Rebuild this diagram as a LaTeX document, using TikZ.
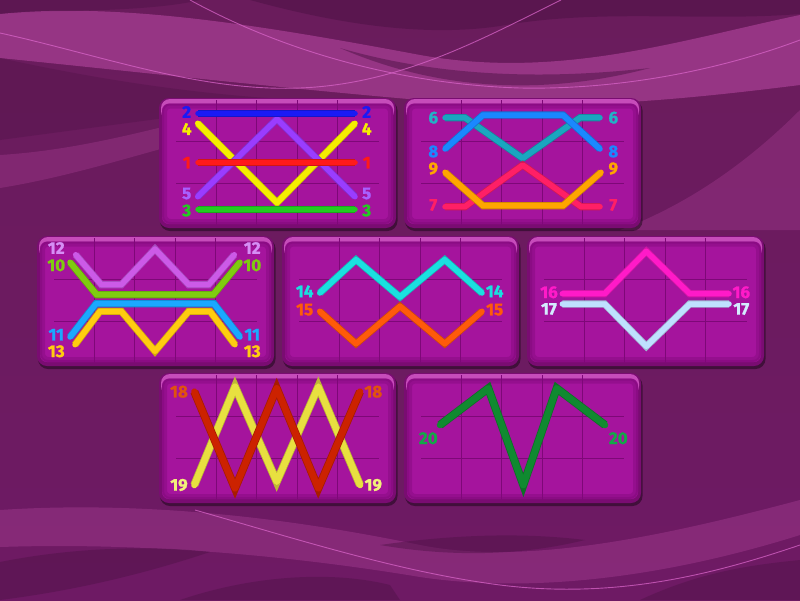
\documentclass[tikz,border=0pt]{standalone}
\usepackage{fontspec}
\newfontfamily\labfont{Fira Sans}[BoldFeatures={FakeBold=1.3}]
\definecolor{bgA}{HTML}{6A1C5C}
\definecolor{bgM}{HTML}{84247A}
\definecolor{bgB}{HTML}{6E1A64}
\definecolor{lightband}{HTML}{B4469F}
\definecolor{darkband}{HTML}{4E1246}
\definecolor{thincurve}{HTML}{D864C8}
\definecolor{panedge}{HTML}{7A0C72}
\definecolor{pantop}{HTML}{C64CBA}
\definecolor{panface}{HTML}{A5149D}
\definecolor{panvig}{HTML}{820A7C}
\definecolor{gridc}{HTML}{7E0878}
\definecolor{c1}{HTML}{FF1A1A}
\definecolor{c2}{HTML}{1A1AF5}
\definecolor{c3}{HTML}{22CC22}
\definecolor{c4}{HTML}{F5EE00}
\definecolor{c5}{HTML}{9A3CFF}
\definecolor{c6}{HTML}{1AA6C0}
\definecolor{c7}{HTML}{FF1F66}
\definecolor{c8}{HTML}{1A88FF}
\definecolor{c9}{HTML}{FFA500}
\definecolor{c10}{HTML}{7FCC10}
\definecolor{c11}{HTML}{1AA8FF}
\definecolor{c12}{HTML}{CC5AE8}
\definecolor{c13}{HTML}{FFCC10}
\definecolor{c14}{HTML}{1AE0E0}
\definecolor{c15}{HTML}{FF5A0A}
\definecolor{c16}{HTML}{FF1AC8}
\definecolor{c17}{HTML}{BFE0FF}
\definecolor{c18}{HTML}{CC2200}
\definecolor{c19}{HTML}{E8E040}
\definecolor{c20}{HTML}{108A30}
\definecolor{t5}{HTML}{A860FF}
\definecolor{t6}{HTML}{22B2C6}
\definecolor{t12}{HTML}{D68EF5}
\definecolor{t17}{HTML}{D4ECFF}
\definecolor{t18}{HTML}{E0520F}
\definecolor{t19}{HTML}{F2F07A}
\definecolor{t20}{HTML}{12A848}
\tikzset{
  pl/.style={draw=#1, line width=5.5pt, line cap=round, line join=round,
    preaction={draw=black, opacity=.35, transform canvas={xshift=0.8pt,yshift=-1.6pt}},
    preaction={draw=#1!82!black, line width=\pgflinewidth+0.8pt}},
  lab/.style={font=\labfont\bfseries\fontsize{17}{17}\selectfont, inner sep=0pt},
  thin/.style={draw=thincurve, line width=0.9pt, opacity=.75},
}
\newcommand\plab[5]{\node[lab,text=#4] (#1) at (#2,#3) {#5};}
\newcommand\panel[2]{%
  \begin{scope}[shift={(#1,#2)}]
    \fill[black,opacity=.4,rounded corners=10pt] (1,2.5) rectangle (238.5,133);
    \fill[panedge,rounded corners=10pt] (0,0) rectangle (237,130);
    \fill[pantop,rounded corners=9pt] (2,1) rectangle (235,22);
    \fill[panface,rounded corners=7pt] (3,5.5) rectangle (234,126);
    \draw[panvig,line width=5pt,opacity=.45,rounded corners=6pt] (5.5,8) rectangle (231.5,123.5);
    \draw[panvig,line width=2pt,opacity=.5,rounded corners=7pt] (4,6.5) rectangle (233,125);
    \draw[gridc,line width=.8pt] (57,2) -- (57,127) (97.5,2) -- (97.5,127)
      (138,2) -- (138,127) (178.5,2) -- (178.5,127)
      (17,43) -- (220,43) (17,85) -- (220,85);
  \end{scope}}
\begin{document}
\begin{tikzpicture}[x=1pt,y=-1pt]
\useasboundingbox (0,0) rectangle (800,600);
% background
\shade[top color=bgA, middle color=bgM, bottom color=bgB] (0,0) rectangle (800,600);
\begin{scope}
\clip (0,0) rectangle (800,600);
\fill[darkband,opacity=.45] (0,0) -- (200,0) .. controls (150,12) and (60,10) .. (0,14) -- cycle;
\fill[lightband,opacity=.6] (0,14) .. controls (120,2) and (260,25) .. (420,55) .. controls (560,80) and (680,40) .. (800,15) -- (800,85) .. controls (680,100) and (560,112) .. (420,100) .. controls (280,88) and (120,70) .. (0,58) -- cycle;
\fill[darkband,opacity=.55] (250,0) -- (800,0) -- (800,14) .. controls (700,22) and (600,8) .. (500,26) .. controls (420,38) and (330,22) .. (250,0) -- cycle;
\fill[darkband,opacity=.5] (340,48) .. controls (450,80) and (560,78) .. (650,68) .. controls (560,92) and (450,96) .. (340,48) -- cycle;
\fill[darkband,opacity=.35] (0,58) .. controls (100,80) and (200,95) .. (300,100) -- (0,140) -- cycle;
\fill[lightband,opacity=.3] (0,155) .. controls (80,150) and (150,130) .. (250,105) -- (250,125) .. controls (150,150) and (80,175) .. (0,188) -- cycle;
\fill[lightband,opacity=.3] (800,110) .. controls (760,150) and (700,200) .. (620,230) -- (800,230) -- cycle;
% bottom
\fill[lightband,opacity=.35] (0,510) .. controls (150,500) and (300,520) .. (420,545) .. controls (520,565) and (650,540) .. (800,500) -- (800,535) .. controls (650,582) and (520,592) .. (420,577) .. controls (300,557) and (150,542) .. (0,547) -- cycle;
\fill[darkband,opacity=.45] (0,562) .. controls (80,546) and (160,546) .. (210,552) .. controls (150,572) and (80,590) .. (0,600) -- cycle;
\fill[darkband,opacity=.45] (180,600) .. controls (250,576) and (330,570) .. (390,585) -- (400,600) -- cycle;
\fill[darkband,opacity=.45] (380,545) .. controls (450,535) and (520,532) .. (585,540) .. controls (520,556) and (450,557) .. (380,545) -- cycle;
\fill[darkband,opacity=.45] (640,600) .. controls (700,572) and (750,565) .. (800,560) -- (800,600) -- cycle;
% thin curves
\draw[thin] (190,0) .. controls (300,60) and (420,85) .. (520,88) .. controls (620,90) and (720,70) .. (800,40);
\draw[thin] (0,33) .. controls (100,55) and (200,92) .. (300,88) .. controls (400,84) and (480,40) .. (561,0);
\draw[thin] (195,510) .. controls (300,540) and (400,572) .. (500,585) .. controls (620,600) and (720,572) .. (800,545);
\end{scope}
% panels
\panel{159}{98}
\panel{404}{98}
\panel{37}{236}
\panel{282}{236}
\panel{527}{236}
\panel{159}{373}
\panel{404}{373}
% panel 1
\draw[pl=c4] (197.7,123.3) -- (277,202.7) -- (355,123.3);
\draw[pl=c5] (197.7,196.7) -- (277,119) -- (355,196.7);
\draw[pl=c1] (198,162.7) -- (355,162.7);
\draw[pl=c2] (198,113.3) -- (355,113.3);
\draw[pl=c3] (198,209.3) -- (355,209.3);
\plab{a2}{186.7}{112}{c2}{2}\plab{b2}{366.7}{112}{c2}{2}
\plab{a4}{186.7}{129}{c4}{4}\plab{b4}{366.7}{129}{c4}{4}
\plab{a1}{186.7}{162.7}{c1}{1}\plab{b1}{366.7}{162.7}{c1}{1}
\plab{a5}{186.7}{193.5}{t5}{5}\plab{b5}{366.7}{193.5}{t5}{5}
\plab{a3}{186.7}{210.5}{c3}{3}\plab{b3}{366.7}{210.5}{c3}{3}
% panel 2
\draw[pl=c6] (445,117.7) -- (465,117.7) -- (522.7,158.3) -- (580,117.7) -- (600,117.7);
\draw[pl=c8] (445,149) -- (483,115) -- (563,115) -- (600,149);
\draw[pl=c7] (445,206.7) -- (465,206.7) -- (522.7,165) -- (581,206.7) -- (600,206.7);
\draw[pl=c9] (445,172.3) -- (483,205.7) -- (563,205.7) -- (601,172.3);
\plab{a6}{433.3}{117.7}{t6}{6}\plab{b6}{613.3}{117.7}{t6}{6}
\plab{a8}{433.3}{151.5}{c8}{8}\plab{b8}{613.3}{151.5}{c8}{8}
\plab{a9}{433.3}{168.5}{c9}{9}\plab{b9}{613.3}{168.5}{c9}{9}
\plab{a7}{433.3}{205}{c7}{7}\plab{b7}{613.3}{205}{c7}{7}
% panel 3
\draw[pl=c12] (75.7,254.7) -- (101.3,284.7) -- (121.3,284.7) -- (155,249) -- (188.7,284.7) -- (208.7,284.7) -- (234.3,254.7);
\draw[pl=c10] (70,262.3) -- (96.7,294.7) -- (213.3,294.7) -- (240,262.3);
\draw[pl=c11] (70,337) -- (96,303.7) -- (214,303.7) -- (240,337);
\draw[pl=c13] (75,344.7) -- (100,311.3) -- (121.3,311.3) -- (155,351.3) -- (188.7,311.3) -- (210,311.3) -- (235,344.7);
\plab{a12}{56.3}{248}{t12}{12}\plab{b12}{252.3}{248}{t12}{12}
\plab{a10}{56.3}{265.3}{c10}{10}\plab{b10}{252.3}{265.3}{c10}{10}
\plab{a11}{56.3}{334.7}{c11}{11}\plab{b11}{252.3}{334.7}{c11}{11}
\plab{a13}{56.3}{351.3}{c13}{13}\plab{b13}{252.3}{351.3}{c13}{13}
% panel 4
\draw[pl=c14] (319.7,293) -- (356,259.7) -- (400,297) -- (444.7,259.7) -- (482,293);
\draw[pl=c15] (319.7,311.3) -- (356,343.7) -- (400,306.3) -- (444.7,343.7) -- (482,311.3);
\plab{a14}{304.7}{291.3}{c14}{14}\plab{b14}{494.7}{291.3}{c14}{14}
\plab{a15}{304.7}{309.7}{c15}{15}\plab{b15}{494.7}{309.7}{c15}{15}
% panel 5
\draw[pl=c16] (562.3,293.7) -- (604.7,293.7) -- (646.3,251.3) -- (689.7,293.7) -- (729,293.7);
\draw[pl=c17] (562.3,304) -- (604.7,304) -- (646.3,346.3) -- (689.7,304) -- (729,304);
\plab{a16}{549}{292.3}{c16}{16}\plab{b16}{741.3}{292.3}{c16}{16}
\plab{a17}{549}{309}{t17}{17}\plab{b17}{741.3}{309}{t17}{17}
% panel 6
\draw[pl=c19, line width=6.5pt] (194.3,485) -- (235,386.7) -- (276.7,481.7) -- (318.3,386.7) -- (360,485);
\draw[pl=c18, line width=6.5pt] (194.3,391.7) -- (235,488.3) -- (276.7,388.3) -- (318.3,488.3) -- (360,391.7);
\plab{a18}{179}{391.7}{t18}{18}\plab{b18}{373.3}{391.7}{t18}{18}
\plab{a19}{179}{485}{t19}{19}\plab{b19}{373.3}{485}{t19}{19}
% panel 7
\draw[pl=c20, line width=6.5pt] (440,425) -- (488.3,388.3) -- (523.3,485) -- (556.7,388.3) -- (605,425);
\plab{a20}{428.3}{438.3}{t20}{20}\plab{b20}{618.3}{438.3}{t20}{20}
\end{tikzpicture}
\end{document}
